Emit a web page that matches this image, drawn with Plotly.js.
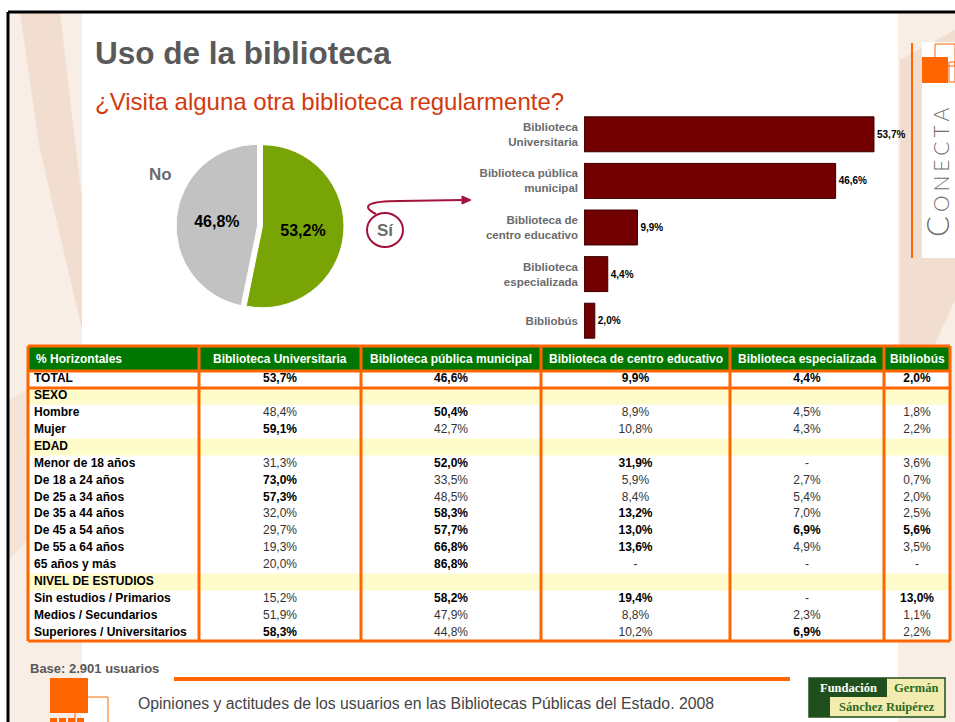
<!DOCTYPE html>
<html><head><meta charset="utf-8">
<script src="https://cdn.plot.ly/plotly-3.0.1.min.js"></script>
<style>html,body{margin:0;padding:0;background:#fff}#chart{width:955px;height:722px}</style>
</head><body><div id="chart"></div>
<script>
// ---------- DATA ----------
const pieLabels = ['Sí', 'No'];
const pieValues = [53.2, 46.8];

const barLabels = ['Biblioteca<br>Universitaria', 'Biblioteca pública<br>municipal', 'Biblioteca de<br>centro educativo', 'Biblioteca<br>especializada', 'Bibliobús'];
const barValues = [53.7, 46.6, 9.9, 4.4, 2.0];

const tableHeader = ['% Horizontales', 'Biblioteca Universitaria', 'Biblioteca pública municipal', 'Biblioteca de centro educativo', 'Biblioteca especializada', 'Bibliobús'];
const rowLabels = ['TOTAL', 'SEXO', 'Hombre', 'Mujer', 'EDAD', 'Menor de 18 años', 'De 18 a 24 años', 'De 25 a 34 años', 'De 35 a 44 años', 'De 45 a 54 años', 'De 55 a 64 años', '65 años y más', 'NIVEL DE ESTUDIOS', 'Sin estudios / Primarios', 'Medios / Secundarios', 'Superiores / Universitarios'];
const sectionRows = [1, 4, 12];
const colUniversitaria = [53.7, null, 48.4, 59.1, null, 31.3, 73.0, 57.3, 32.0, 29.7, 19.3, 20.0, null, 15.2, 51.9, 58.3];
const colMunicipal     = [46.6, null, 50.4, 42.7, null, 52.0, 33.5, 48.5, 58.3, 57.7, 66.8, 86.8, null, 58.2, 47.9, 44.8];
const colEducativo     = [9.9, null, 8.9, 10.8, null, 31.9, 5.9, 8.4, 13.2, 13.0, 13.6, null, null, 19.4, 8.8, 10.2];
const colEspecializada = [4.4, null, 4.5, 4.3, null, null, 2.7, 5.4, 7.0, 6.9, 4.9, null, null, null, 2.3, 6.9];
const colBibliobus     = [2.0, null, 1.8, 2.2, null, 3.6, 0.7, 2.0, 2.5, 5.6, 3.5, null, null, 13.0, 1.1, 2.2];
// rows highlighted (bold) in each value column
const hlUniversitaria = [0, 3, 6, 7, 15];
const hlMunicipal     = [0, 2, 5, 8, 9, 10, 11, 13];
const hlEducativo     = [0, 5, 8, 9, 10, 13];
const hlEspecializada = [0, 9, 15];
const hlBibliobus     = [0, 9, 13];

// ---------- HELPERS / STYLE ----------
const W = 955, H = 722;
const px = x => x / W;
const py = y => 1 - y / H;
const FONT = 'Liberation Sans, Arial, sans-serif';
const ORANGE = '#ff6600';

function fmt(v, row) {
  if (sectionRows.includes(row)) return '';
  if (v === null) return '-';
  return v.toFixed(1).replace('.', ',') + '%';
}
const valueCols = [colUniversitaria, colMunicipal, colEducativo, colEspecializada, colBibliobus];
const hlCols = [hlUniversitaria, hlMunicipal, hlEducativo, hlEspecializada, hlBibliobus];

// table geometry (layout only)
const colWidths = [171, 162, 180, 189, 154, 66];
const tableLeft = 28, tableRight = 950, tableTop = 346, headerBottom = 371, tableBottom = 641;
const colEdges = [0];
colWidths.forEach(w => colEdges.push(colEdges[colEdges.length - 1] + w));
const colCenters = colWidths.map((w, i) => colEdges[i] + w / 2);
const labelPad = 6;

// ---------- TRACES ----------
const pieTrace = {
  type: 'pie', labels: pieLabels, values: pieValues, sort: false,
  direction: 'clockwise', rotation: 0, pull: [0.03, 0.03],
  marker: { colors: ['#78a505', '#c2c2c2'], line: { color: '#ffffff', width: 1 } },
  textinfo: 'text', texttemplate: '%{value:.1f}%', textposition: 'inside',
  insidetextorientation: 'horizontal',
  textfont: { family: FONT, size: 16, color: '#000', weight: 'bold' },
  domain: { x: [px(176), px(344)], y: [py(310), py(142)] },
  showlegend: false, hoverinfo: 'skip'
};

const barTrace = {
  type: 'bar', orientation: 'h', x: barValues, y: barLabels,
  marker: { color: '#720000', line: { color: '#3a0000', width: 1 } },
  texttemplate: '%{x:.1f}%', textposition: 'outside', cliponaxis: false,
  textfont: { family: FONT, size: 10, color: '#000', weight: 'bold' },
  xaxis: 'x', yaxis: 'y', showlegend: false, hoverinfo: 'skip'
};

const tableTraces = [];
tableTraces.push({
  type: 'scatter', mode: 'text', xaxis: 'x2', yaxis: 'y2',
  x: rowLabels.map(() => colEdges[0] + labelPad), y: rowLabels,
  text: rowLabels.map(l => '<b>' + l + '</b>'), textposition: 'middle right',
  textfont: { family: FONT, size: 12, color: '#000000' },
  cliponaxis: false, showlegend: false, hoverinfo: 'skip'
});
valueCols.forEach((col, c) => {
  tableTraces.push({
    type: 'scatter', mode: 'text', xaxis: 'x2', yaxis: 'y2',
    x: rowLabels.map(() => colCenters[c + 1]), y: rowLabels,
    text: col.map((v, r) => hlCols[c].includes(r) ? '<b>' + fmt(v, r) + '</b>' : fmt(v, r)),
    textposition: 'middle center',
    textfont: { family: FONT, size: 12, color: col.map((v, r) => hlCols[c].includes(r) ? '#000000' : '#333333') },
    cliponaxis: false, showlegend: false, hoverinfo: 'skip'
  });
});

// ---------- SHAPES ----------
const shapes = [];
function rect(x0, y0, x1, y1, fill, line, lw) {
  shapes.push({ type: 'rect', xref: 'paper', yref: 'paper', x0: px(x0), x1: px(x1), y0: py(y1), y1: py(y0),
    fillcolor: fill || 'rgba(0,0,0,0)', line: { color: line || 'rgba(0,0,0,0)', width: lw || 0 }, layer: 'below' });
}
function line(x0, y0, x1, y1, color, w, layer) {
  shapes.push({ type: 'line', xref: 'paper', yref: 'paper', x0: px(x0), x1: px(x1), y0: py(y0), y1: py(y1),
    line: { color: color, width: w }, layer: layer || 'above' });
}
function path(d, color, w, fill) {
  shapes.push({ type: 'path', xref: 'paper', yref: 'paper', path: d, line: { color: color, width: w }, fillcolor: fill || 'rgba(0,0,0,0)', layer: 'below' });
}
function pd(pts) {
  return pts.map(p => typeof p === 'string' ? p : (px(p[0]).toFixed(5) + ',' + py(p[1]).toFixed(5))).join(' ');
}
// decorative side strips
rect(9, 13, 82, 722, '#f8eee6');
path(pd(['M', [20, 13], 'L', [60, 13], 'L', [82, 200], 'L', [82, 330], 'L', [40, 150], 'Z']), 'rgba(0,0,0,0)', 0, 'rgba(225,185,160,0.3)');
path(pd(['M', [9, 400], 'L', [82, 360], 'L', [82, 480], 'L', [9, 560], 'Z']), 'rgba(0,0,0,0)', 0, 'rgba(230,195,170,0.25)');
rect(898, 13, 955, 722, '#f8eee6');
path(pd(['M', [900, 60], 'L', [955, 30], 'L', [955, 300], 'L', [900, 420], 'Z']), 'rgba(0,0,0,0)', 0, 'rgba(225,185,160,0.3)');
// white conecta box
rect(922, 42, 955, 258, '#ffffff');
rect(922, 57, 948, 83, ORANGE);
rect(935, 44, 955, 66, null, ORANGE, 1);
rect(949, 62, 955, 82, null, ORANGE, 1);
line(912, 43, 912, 258, ORANGE, 2);
// slide frame
line(8, 12, 955, 12, '#000', 3);
line(8, 12, 8, 722, '#000', 3);
// Sí marker and arrow
shapes.push({ type: 'circle', xref: 'paper', yref: 'paper', x0: px(367), x1: px(403), y0: py(247), y1: py(213), line: { color: '#a3123a', width: 2 } });
path(pd(['M', [376, 214], 'C', [360, 206], [368, 201], [400, 201], 'L', [463, 200]]), '#a3123a', 2);
path(pd(['M', [471, 200], 'L', [462, 196], 'L', [462, 204], 'Z']), '#a3123a', 1, '#a3123a');
// table background, header and section bands
rect(tableLeft, tableTop, tableRight, tableBottom, '#ffffff');
rect(tableLeft, tableTop, tableRight, headerBottom, '#007700');
sectionRows.forEach(r => shapes.push({ type: 'rect', xref: 'paper', yref: 'y2', x0: px(tableLeft), x1: px(tableRight),
  y0: r - 0.5, y1: r + 0.5, fillcolor: '#fffccc', line: { width: 0 }, layer: 'below' }));
// table borders
const lw = 3;
line(tableLeft, tableTop, tableRight, tableTop, ORANGE, lw);
line(tableLeft, tableBottom, tableRight, tableBottom, ORANGE, lw);
line(tableLeft, headerBottom, tableRight, headerBottom, ORANGE, lw);
shapes.push({ type: 'line', xref: 'paper', yref: 'y2', x0: px(tableLeft), x1: px(tableRight), y0: 0.5, y1: 0.5, line: { color: ORANGE, width: lw } });
colEdges.forEach(e => line(tableLeft + e, tableTop, tableLeft + e, tableBottom, ORANGE, lw));
// footer
line(174, 679, 790, 679, ORANGE, 4);
rect(50, 678, 88, 713, ORANGE);
rect(75, 697, 108, 730, null, ORANGE, 1);
[50, 59, 68, 77].forEach(x => rect(x, 718, x + 7, 722, ORANGE));
// Fundación logo
rect(809, 678, 945, 717, '#f3ecb0', '#1f4f1c', 1.5);
rect(809, 678, 887, 697, '#1f4f1c');
rect(809, 697, 830, 717, '#1f4f1c');

// ---------- ANNOTATIONS ----------
function ann(text, x, y, o) {
  return Object.assign({ text: text, xref: 'paper', yref: 'paper', x: px(x), y: py(y), showarrow: false,
    font: { family: FONT, size: 12, color: '#000' }, xanchor: 'left', yanchor: 'middle' }, o || {});
}
const sp = '\u2009\u200A';
const annotations = [
  ann('Uso de la biblioteca', 93, 53, { font: { family: FONT, size: 31.5, color: '#595959', weight: 'bold' } }),
  ann('¿Visita alguna otra biblioteca regularmente?', 93, 102, { font: { family: FONT, size: 24, color: '#d23a0e' } }),
  ann(pieLabels[1], 160, 174, { xanchor: 'center', font: { family: FONT, size: 17, color: '#6b6b6b', weight: 'bold' } }),
  ann(pieLabels[0], 385, 230, { xanchor: 'center', font: { family: FONT, size: 17, color: '#6b6b6b', weight: 'bold' } }),
  ann('Base: 2.901 usuarios', 28, 668, { font: { family: FONT, size: 13, color: '#595959', weight: 'bold' } }),
  ann('Opiniones y actitudes de los usuarios en las Bibliotecas Públicas del Estado. 2008', 136, 703, { font: { family: FONT, size: 15.8, color: '#444444' } }),
  ann('<span style="font-size:31px">C</span>' + sp + ['O', 'N', 'E', 'C', 'T', 'A'].join(sp), 937, 172,
    { xanchor: 'center', textangle: -90, borderpad: 0, font: { family: 'Lato, DejaVu Sans, sans-serif', size: 21, color: '#707070', weight: 300 } }),
  ann('Fundación', 848, 688, { xanchor: 'center', font: { family: 'Liberation Serif, serif', size: 12.5, color: '#ffffff', weight: 'bold' } }),
  ann('Germán', 916, 688, { xanchor: 'center', font: { family: 'Liberation Serif, serif', size: 12.5, color: '#2d6b1f', weight: 'bold' } }),
  ann('Sánchez Ruipérez', 887, 707, { xanchor: 'center', font: { family: 'Liberation Serif, serif', size: 12.5, color: '#2d6b1f', weight: 'bold' } })
];
tableHeader.forEach((h, i) => annotations.push({
  text: '<b>' + h + '</b>', xref: 'x2', yref: 'paper',
  x: i === 0 ? colEdges[0] + labelPad : colCenters[i], y: py((tableTop + headerBottom) / 2),
  xanchor: i === 0 ? 'left' : 'center', yanchor: 'middle', showarrow: false,
  font: { family: FONT, size: 12, color: '#ffffff' }
}));

// ---------- LAYOUT ----------
const layout = {
  width: W, height: H, margin: { l: 0, r: 0, t: 0, b: 0 },
  paper_bgcolor: '#ffffff', plot_bgcolor: 'rgba(0,0,0,0)',
  separators: ',.',
  font: { family: FONT },
  showlegend: false,
  bargap: 0.25,
  xaxis: { domain: [px(584), px(908)], range: [0, 60], visible: false, fixedrange: true },
  yaxis: { domain: [py(344), py(111)], autorange: 'reversed', showgrid: false, zeroline: false, showline: false,
    ticks: '', ticklabelstandoff: 5, tickfont: { family: FONT, size: 11.5, color: '#6b6b6b', weight: 'bold' }, fixedrange: true },
  xaxis2: { domain: [px(tableLeft), px(tableRight)], range: [0, colEdges[colEdges.length - 1]], visible: false, fixedrange: true },
  yaxis2: { domain: [py(tableBottom), py(headerBottom)], type: 'category', categoryarray: rowLabels,
    range: [rowLabels.length - 0.5, -0.5], visible: false, fixedrange: true },
  shapes: shapes,
  annotations: annotations
};

Plotly.newPlot('chart', [pieTrace, barTrace].concat(tableTraces), layout, { displayModeBar: false, staticPlot: true });
</script>
</body></html>
